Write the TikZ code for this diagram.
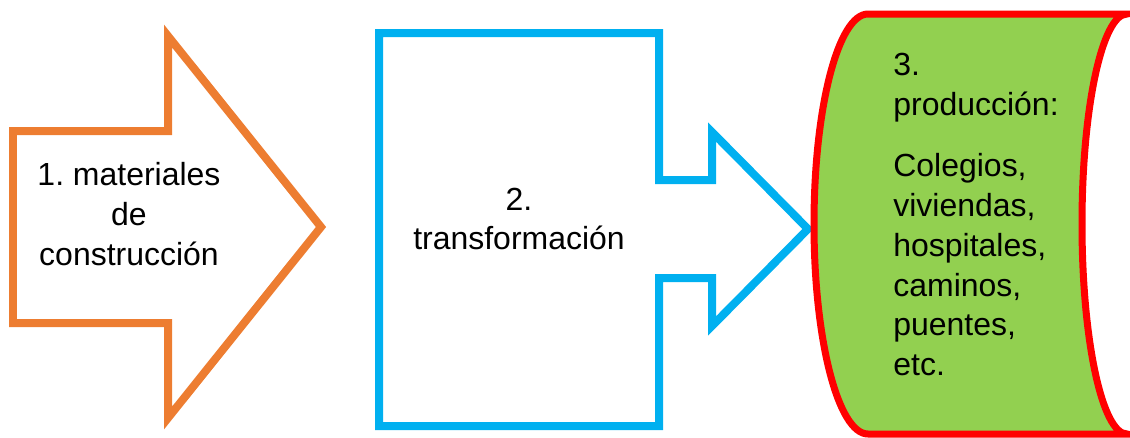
\documentclass[tikz,border=0pt]{standalone}
\usepackage{fontspec}
\setmainfont{Liberation Sans}
\usepackage{tikz}
\definecolor{naranja}{HTML}{ED7D31}
\definecolor{celeste}{HTML}{00B0F0}
\definecolor{verde}{HTML}{92D050}
\definecolor{rojo}{HTML}{FF0000}

\begin{document}
\frenchspacing
\begin{tikzpicture}[x=0.02cm,y=-0.02cm,
	txt/.style={inner sep=0pt, font=\fontsize{18.2}{22.6}\selectfont}]
	\def\lw{0.16cm}
	\useasboundingbox (0,0) rectangle (1130,437);
	% 1. flecha naranja
	\draw[naranja, line width=\lw] (13,131) -- (168,131) -- (168,36) -- (321,227) -- (168,418) -- (168,323) -- (13,323) -- cycle;
	\node[txt, align=center] (mat) at (129,214) {1. materiales\\de\\construcción};
	% 2. caja con flecha celeste
	\draw[celeste, line width=\lw] (379,33) -- (659,33) -- (659,180) -- (712,180) -- (712,132) -- (808,229) -- (712,326) -- (712,278) -- (659,278) -- (659,426) -- (379,426) -- cycle;
	\node[txt, align=center] (trans) at (519,219) {2.\\transformación};
	% 3. datos almacenados
	\filldraw[draw=rojo, fill=verde, line width=0.14cm] (868,14) arc[start angle=-90, end angle=-270, x radius=54, y radius=210] -- (1127,434) arc[start angle=90, end angle=270, x radius=45, y radius=210] -- cycle;
	\node[txt, align=left, anchor=north west] (prod) at (893,53) {3.\\producción:\\[12.4pt]Colegios,\\viviendas,\\hospitales,\\caminos,\\puentes,\\etc.};
\end{tikzpicture}
\end{document}
